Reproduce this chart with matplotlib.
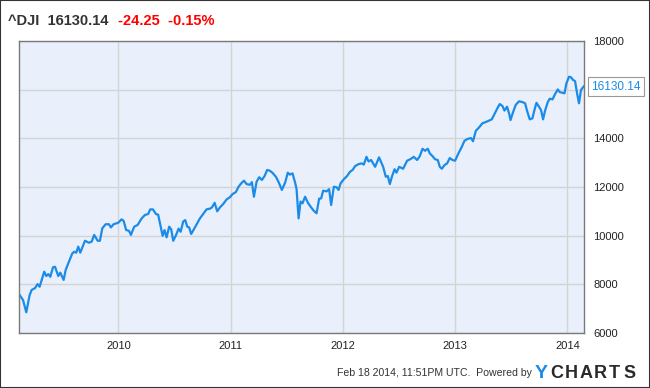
import matplotlib
matplotlib.use("Agg")
from matplotlib import pyplot as plt
from matplotlib.patches import Rectangle

plt.rcParams['font.family'] = ['Liberation Sans', 'DejaVu Sans']

# weekly-ish closes of the Dow (decimal year, value)
years = [2009.120, 2009.150, 2009.179, 2009.209, 2009.227, 2009.256, 2009.280, 2009.298,
         2009.339, 2009.357, 2009.375, 2009.393, 2009.417, 2009.435, 2009.464, 2009.482,
         2009.512, 2009.530, 2009.553, 2009.589, 2009.606, 2009.624, 2009.642, 2009.660,
         2009.702, 2009.737, 2009.761, 2009.784, 2009.815, 2009.835, 2009.856, 2009.886,
         2009.915, 2009.933, 2009.957, 2009.998, 2010.028, 2010.046, 2010.069, 2010.094,
         2010.111, 2010.141, 2010.171, 2010.207, 2010.236, 2010.265, 2010.283, 2010.307,
         2010.334, 2010.354, 2010.376, 2010.394, 2010.411, 2010.429, 2010.452, 2010.470,
         2010.488, 2010.512, 2010.536, 2010.554, 2010.577, 2010.595, 2010.613, 2010.630,
         2010.648, 2010.672, 2010.702, 2010.726, 2010.755, 2010.785, 2010.815, 2010.833,
         2010.857, 2010.880, 2010.904, 2010.933, 2010.964, 2010.993, 2011.017, 2011.046,
         2011.070, 2011.094, 2011.118, 2011.142, 2011.171, 2011.189, 2011.207, 2011.231,
         2011.254, 2011.278, 2011.302, 2011.325, 2011.349, 2011.373, 2011.403, 2011.427,
         2011.456, 2011.485, 2011.509, 2011.527, 2011.551, 2011.574, 2011.587, 2011.605,
         2011.622, 2011.640, 2011.663, 2011.688, 2011.717, 2011.741, 2011.765, 2011.788,
         2011.806, 2011.824, 2011.854, 2011.877, 2011.895, 2011.919, 2011.943, 2011.961,
         2011.979, 2012.008, 2012.037, 2012.062, 2012.086, 2012.109, 2012.139, 2012.168,
         2012.186, 2012.210, 2012.228, 2012.251, 2012.287, 2012.322, 2012.358, 2012.382,
         2012.400, 2012.418, 2012.436, 2012.460, 2012.477, 2012.501, 2012.536, 2012.572,
         2012.607, 2012.631, 2012.661, 2012.685, 2012.709, 2012.732, 2012.756, 2012.774,
         2012.798, 2012.821, 2012.845, 2012.863, 2012.881, 2012.905, 2012.928, 2012.952,
         2012.976, 2012.999, 2013.029, 2013.059, 2013.083, 2013.112, 2013.142, 2013.159,
         2013.184, 2013.213, 2013.243, 2013.273, 2013.297, 2013.326, 2013.350, 2013.380,
         2013.397, 2013.421, 2013.439, 2013.462, 2013.480, 2013.493, 2013.516, 2013.540,
         2013.569, 2013.599, 2013.623, 2013.640, 2013.664, 2013.688, 2013.706, 2013.724,
         2013.747, 2013.765, 2013.783, 2013.801, 2013.825, 2013.843, 2013.867, 2013.890,
         2013.914, 2013.932, 2013.956, 2013.974, 2013.991, 2014.014, 2014.032, 2014.050,
         2014.068, 2014.086, 2014.103, 2014.121, 2014.145]

dji = [7560, 7355, 6850, 7560, 7770, 7840, 8010, 7900,
       8520, 8340, 8420, 8310, 8700, 8720, 8340, 8480,
       8180, 8590, 8860, 9270, 9340, 9300, 9550, 9300,
       9790, 9710, 9750, 10030, 9790, 9790, 10300, 10470,
       10470, 10340, 10470, 10530, 10670, 10610, 10230, 10200,
       10030, 10370, 10440, 10710, 10850, 10890, 11080, 11080,
       10890, 10860, 10370, 9990, 10230, 9930, 10370, 10260,
       9790, 10010, 10290, 10160, 10580, 10640, 10370, 10340,
       10070, 10260, 10510, 10710, 10890, 11080, 11110, 11160,
       11350, 11000, 11160, 11300, 11490, 11580, 11710, 11790,
       12010, 12150, 12260, 12120, 12090, 12200, 11600, 12220,
       12400, 12290, 12450, 12700, 12670, 12580, 12420, 12200,
       11880, 12180, 12590, 12510, 12560, 12180, 11910, 10710,
       11400, 11330, 11600, 11350, 11160, 11020, 10920, 11520,
       11530, 11850, 11820, 11910, 11260, 12010, 11990, 11880,
       12150, 12320, 12450, 12620, 12700, 12860, 12940, 12970,
       12920, 13240, 13050, 13110, 12830, 13220, 12830, 12420,
       12450, 12120, 12420, 12730, 12590, 12830, 12750, 13080,
       13160, 13240, 13110, 13270, 13570, 13490, 13570, 13380,
       13270, 13140, 13110, 12830, 12750, 12900, 12970, 13190,
       13110, 13080, 13380, 13650, 13900, 13980, 14010, 13880,
       14310, 14450, 14620, 14670, 14720, 14780, 15000, 15270,
       15410, 15330, 15140, 15300, 15030, 14750, 15080, 15380,
       15520, 15490, 15440, 15140, 14780, 14820, 15160, 15460,
       15300, 15160, 14780, 15140, 15490, 15630, 15600, 15820,
       16010, 15900, 15870, 15850, 16260, 16530, 16510, 16400,
       16350, 15850, 15440, 15990, 16130.14]

ticker = "^DJI"
last = "16130.14"
change = "-24.25"
pct = "-0.15%"
xticks = [2010, 2011, 2012, 2013, 2014]
yticks = [6000, 8000, 10000, 12000, 14000, 16000, 18000]

fig = plt.figure(figsize=(6.5, 3.88), dpi=100)
fig.patch.set_facecolor('white')
fig.patches.append(Rectangle((0, 0), 1, 1, transform=fig.transFigure,
                             fill=False, edgecolor='#333333', lw=1.5))

ax = fig.add_axes([0.0292, 0.1418, 0.8688, 0.7525])
ax.set_facecolor('#e9f0fc')
ax.plot(years, dji, color='#1a8be8', lw=1.6, solid_joinstyle='round')
ax.set_xlim(2009.114, 2014.145)
ax.set_ylim(6000, 18000)

ax.set_xticks(xticks)
ax.set_xticklabels([str(y) for y in xticks])
ax.set_yticks(yticks)
ylabels = [str(v) for v in yticks]
ylabels[yticks.index(16000)] = ""   # hidden behind the callout
ax.set_yticklabels(ylabels)
ax.yaxis.tick_right()
ax.tick_params(length=0, labelsize=8, colors='#222222')
ax.tick_params(axis='x', pad=6)
ax.tick_params(axis='y', pad=7)
ax.grid(True, color='#d4d4d4', lw=1)
ax.set_axisbelow(True)
for s in ax.spines.values():
    s.set_color('#7a7a7a')
    s.set_linewidth(1)

# callout for last value
ax.annotate(last, xy=(years[-1], dji[-1]), xycoords='data',
            xytext=(5.5, 0), textcoords='offset points', va='center', ha='left',
            fontsize=8.5, color='#1a8be8',
            bbox=dict(boxstyle='square,pad=0.28', fc='white', ec='#999999', lw=0.8),
            annotation_clip=False)

# header
fig.text(0.012, 0.946, ticker + "  " + last, fontsize=10.5, fontweight='bold',
         color='#333333', ha='left', va='center')
fig.text(0.181, 0.946, change + "  " + pct, fontsize=10.5, fontweight='bold',
         color='#ff0000', ha='left', va='center')

# footer
fy = 0.038
fig.text(0.8185, fy, "Feb 18 2014, 11:51PM UTC.  Powered by", fontsize=7.6,
         color='#333333', ha='right', va='center')
fig.text(0.822, fy, "Y", fontsize=14, fontweight='bold', color='#1a8be8',
         ha='left', va='center')
for i, ch in enumerate("CHARTS"):
    fig.text(0.846 + i * 0.0226, fy, ch, fontsize=13, fontweight='bold',
             color='#2a2a2a', ha='left', va='center')

fig.savefig("out.png", dpi=100)
